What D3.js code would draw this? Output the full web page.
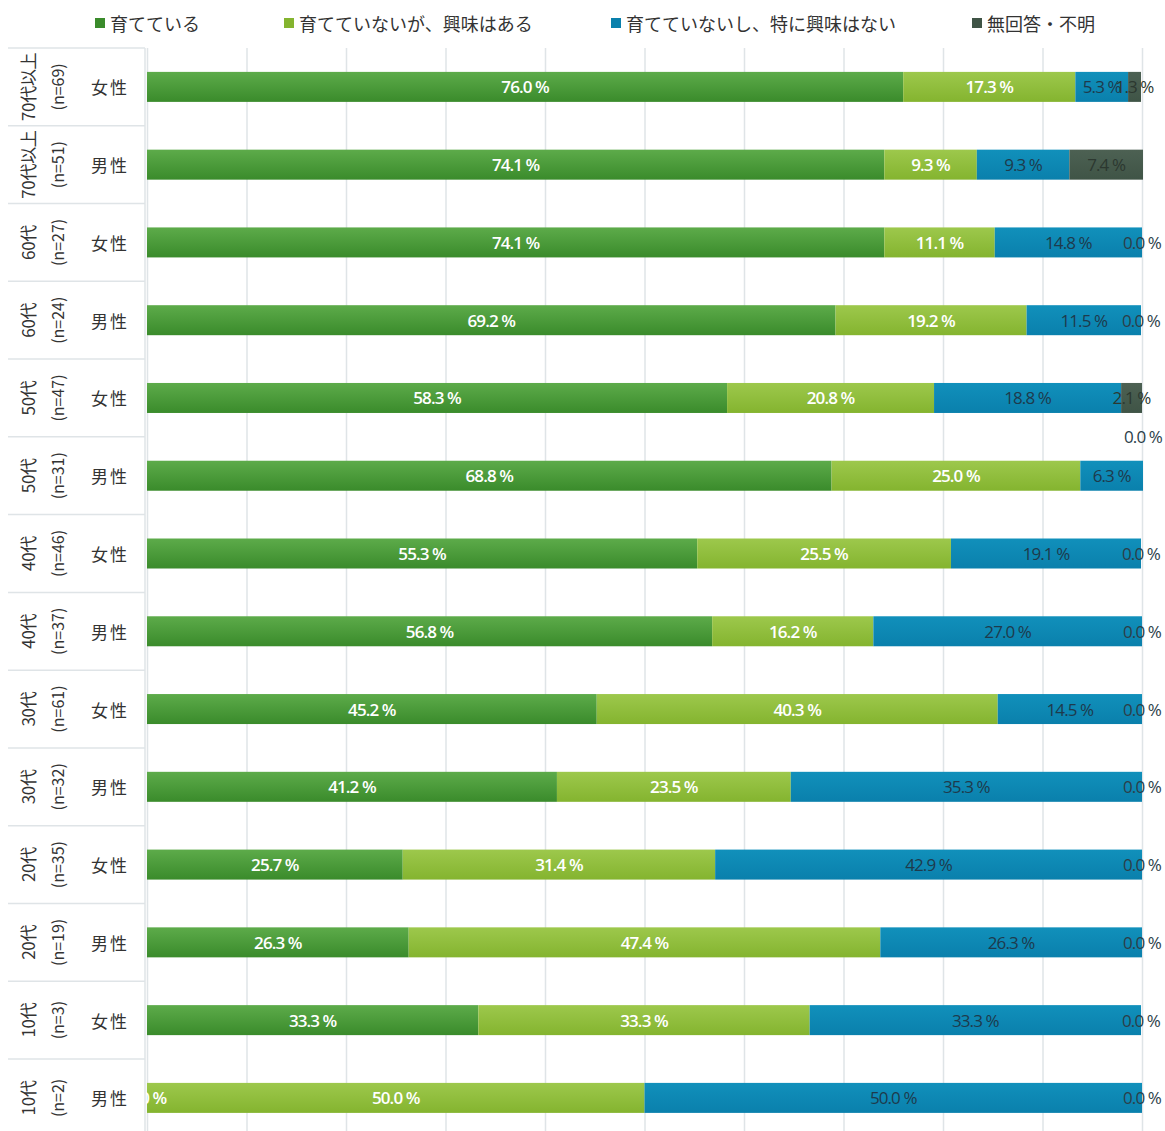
<!DOCTYPE html>
<html><head><meta charset="utf-8">
<script src="https://cdn.jsdelivr.net/npm/d3@7"></script>
<style>
html,body{margin:0;padding:0;background:#fff;}
svg{display:block;}
</style></head>
<body>
<script>
const ages = ["70代以上","70代以上","60代","60代","50代","50代","40代","40代","30代","30代","20代","20代","10代","10代"];
const ns = ["(n=69)","(n=51)","(n=27)","(n=24)","(n=47)","(n=31)","(n=46)","(n=37)","(n=61)","(n=32)","(n=35)","(n=19)","(n=3)","(n=2)"];
const genders = ["女性","男性","女性","男性","女性","男性","女性","男性","女性","男性","女性","男性","女性","男性"];
const seriesNames = ["育てている","育てていないが、興味はある","育てていないし、特に興味はない","無回答・不明"];
const s1 = [76.0,74.1,74.1,69.2,58.3,68.8,55.3,56.8,45.2,41.2,25.7,26.3,33.3,0.0];
const s2 = [17.3,9.3,11.1,19.2,20.8,25.0,25.5,16.2,40.3,23.5,31.4,47.4,33.3,50.0];
const s3 = [5.3,9.3,14.8,11.5,18.8,6.3,19.1,27.0,14.5,35.3,42.9,26.3,33.3,50.0];
const s4 = [1.3,7.4,0.0,0.0,2.1,0.0,0.0,0.0,0.0,0.0,0.0,0.0,0.0,0.0];
const xTicks = [0,10,20,30,40,50,60,70,80,90,100];
const shiftedLabel = {row: 5, series: 3}; // 50代男性 0.0% label drawn above its bar

const W = 1165, H = 1131;
const colorsTop = ["#5dab4a","#9dc84c","#1190bb","#4d6153"];
const colorsBot = ["#3a8b2b","#84b42f","#0a80ac","#3f5446"];
const textColors = ["#ffffff","#ffffff","#1e3a4c","#2c3830"];
const textWeights = ["600","600","400","400"];

const svg = d3.select("body").append("svg").attr("width", W).attr("height", H);
const defs = svg.append("defs");
colorsTop.forEach((c,i)=>{
  const g = defs.append("linearGradient").attr("id","g"+i).attr("x1",0).attr("y1",0).attr("x2",0).attr("y2",1);
  g.append("stop").attr("offset","0%").attr("stop-color",c);
  g.append("stop").attr("offset","100%").attr("stop-color",colorsBot[i]);
});
defs.append("clipPath").attr("id","plotclip").append("rect").attr("x",146).attr("y",0).attr("width",W-146).attr("height",H);

const rowIdx = d3.range(ages.length);
const x = d3.scaleLinear().domain([0,100]).range([147,1142]);
const y = d3.scaleBand().domain(rowIdx).range([48, 48 + 77.77*14]).padding(0);
const barH = 30;

// gridlines
const grid = svg.append("g").attr("transform","translate(0,48)")
  .call(d3.axisBottom(x).tickValues(xTicks).tickSize(H).tickFormat(""));
grid.select(".domain").remove();
grid.selectAll(".tick line").attr("stroke","#dfe4e7").attr("stroke-width",1.5);

// left panel
const panel = svg.append("g");
panel.append("line").attr("x1",145).attr("x2",145).attr("y1",48).attr("y2",H).attr("stroke","#dfe4e7").attr("stroke-width",1.5);
panel.selectAll("line.sep").data(rowIdx).enter().append("line").attr("class","sep")
  .attr("x1",8).attr("x2",145).attr("y1",d=>y(d)).attr("y2",d=>y(d))
  .attr("stroke","#dfe4e7").attr("stroke-width",1.5);
rowIdx.forEach(i=>{
  const cy = y(i)+y.bandwidth()/2;
  panel.append("text").attr("transform",`translate(27,${cy}) rotate(-90)`)
    .attr("text-anchor","middle").attr("dominant-baseline","central")
    .attr("font-family","'Noto Sans CJK JP', sans-serif").attr("font-size",17).attr("fill","#333").attr("letter-spacing",-0.3)
    .text(ages[i]);
  panel.append("text").attr("transform",`translate(57,${cy}) rotate(-90)`)
    .attr("text-anchor","middle").attr("dominant-baseline","central")
    .attr("font-family","'Noto Sans CJK JP', sans-serif").attr("font-size",16).attr("fill","#333")
    .text(ns[i]);
  panel.append("text").attr("x",110).attr("y",cy).attr("text-anchor","middle").attr("dominant-baseline","central")
    .attr("font-family","'Noto Sans CJK JP', sans-serif").attr("font-size",17).attr("fill","#333").attr("letter-spacing",2)
    .text(genders[i]);
});

// stacked data
const rows = rowIdx.map(i=>({i, v:[s1[i],s2[i],s3[i],s4[i]]}));
const stack = d3.stack().keys([0,1,2,3]).value((d,k)=>d.v[k]);
const stacked = stack(rows);

const plot = svg.append("g").attr("clip-path","url(#plotclip)");
stacked.forEach((layer,k)=>{
  plot.selectAll("rect.s"+k).data(layer).enter().append("rect")
    .attr("x",d=>x(d[0])).attr("width",d=>Math.max(0,x(d[1])-x(d[0])))
    .attr("y",d=>y(d.data.i)+(y.bandwidth()-barH)/2).attr("height",barH)
    .attr("fill",`url(#g${k})`);
});
const fmt = v => v.toFixed(1)+" %";
stacked.forEach((layer,k)=>{
  plot.selectAll("text.l"+k).data(layer).enter().append("text")
    .attr("x",d=>(x(d[0])+x(d[1]))/2)
    .attr("y",d=>{
      let cy = y(d.data.i)+y.bandwidth()/2;
      if(d.data.i===shiftedLabel.row && k===shiftedLabel.series) cy -= y.bandwidth()/2;
      return cy;
    })
    .attr("text-anchor","middle").attr("dominant-baseline","central")
    .attr("font-family","'Open Sans', sans-serif").attr("font-size",17)
    .attr("font-weight",textWeights[k]).attr("letter-spacing",-0.9)
    .attr("fill", d=> (k===3 && d.data.v[3]===0) ? "#2c3e48" : textColors[k])
    .text(d=>fmt(d.data.v[k]));
});

// legend
const legX = [100,289,616,977];
const leg = svg.append("g");
seriesNames.forEach((n,k)=>{
  leg.append("rect").attr("x",legX[k]-5).attr("y",18).attr("width",10).attr("height",10).attr("fill",colorsBot[k]);
  leg.append("text").attr("x",legX[k]+10).attr("y",23).attr("dominant-baseline","central")
    .attr("font-family","'Noto Sans CJK JP', sans-serif").attr("font-size",18).attr("fill","#333")
    .text(n);
});
</script>
</body></html>
